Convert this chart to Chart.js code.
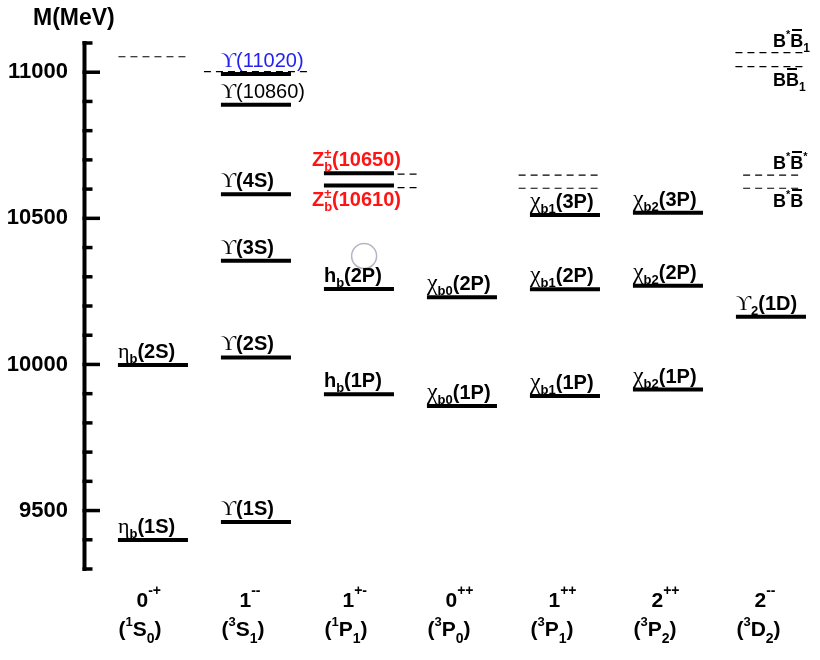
<!DOCTYPE html>
<html>
<head>
<meta charset="utf-8">
<script src="https://cdn.jsdelivr.net/npm/chart.js@4.4.0/dist/chart.umd.min.js"></script>
<style>
  html, body { margin: 0; padding: 0; background: #fff; }
  #wrap { width: 820px; height: 660px; }
</style>
</head>
<body>
<div id="wrap"><canvas id="spectrum" width="820" height="660"></canvas></div>
<script>
/* ── Data ───────────────────────────────────────────────────── */

// column quantum numbers (bottom labels)
const JPC   = ['0^{-+}', '1^{--}', '1^{+-}', '0^{++}', '1^{++}', '2^{++}', '2^{--}'];
const TERMS = ['(^{1}S_{0})', '(^{3}S_{1})', '(^{1}P_{1})', '(^{3}P_{0})', '(^{3}P_{1})', '(^{3}P_{2})', '(^{3}D_{2})'];

// bound / resonance levels
const LEVEL_NAMES = [
  'η_{b}(1S)', 'η_{b}(2S)',
  'ϒ(1S)', 'ϒ(2S)', 'ϒ(3S)', 'ϒ(4S)', 'ϒ(10860)', 'ϒ(11020)',
  'Z^{±}_{b}(10610)', 'Z^{±}_{b}(10650)', 'h_{b}(1P)', 'h_{b}(2P)',
  'χ_{b0}(1P)', 'χ_{b0}(2P)',
  'χ_{b1}(1P)', 'χ_{b1}(2P)', 'χ_{b1}(3P)',
  'χ_{b2}(1P)', 'χ_{b2}(2P)', 'χ_{b2}(3P)',
  'ϒ_{2}(1D)',
];
const LEVEL_COL  = [1, 1, 2, 2, 2, 2, 2, 2, 3, 3, 3, 3, 4, 4, 5, 5, 5, 6, 6, 6, 7];
const LEVEL_MASS = [9399, 9998, 9461, 10024, 10355, 10582, 10889, 10994, 10612, 10654,
                    9898, 10258, 9858, 10230, 9892, 10257, 10511, 9914, 10269, 10519, 10163];

// open-bottom thresholds (dashed)
const THRESH_COL   = [1, 2, 3, 3, 5, 5, 7, 7, 7, 7];
const THRESH_MASS  = [11053, 11002, 10651, 10605, 10648, 10603, 11067, 11019, 10648, 10603];
const THRESH_LABEL = ['', '', '', '', '', '', 'B^{*}~{B}_{1}', 'B~{B}_{1}', 'B^{*}~{B}^{*}', 'B^{*}~{B}'];

// cursor ring left in the picture
const RING = [{ x: 3.05, y: 10371 }];

const Y_MIN = 9300, Y_MAX = 11100, Y_STEP = 100, Y_LABEL_EVERY = 500;

/* ── Style ──────────────────────────────────────────────────── */

const SANS  = "'Liberation Sans', Arial, Helvetica, sans-serif";
const SERIF = "'Liberation Serif', 'Times New Roman', 'DejaVu Serif', serif";
const GREEK = /([ηχϒ])/;
const GREEK_SCALE = { 'η': 1.12, 'χ': 1.22, 'ϒ': 1.05 };

const HALF = 0.34;   // half width of a level bar, in column units

// dashed line extents relative to column centre
const DASH_SPAN = [
  [-0.335, 0.335], [-0.505, 0.505], [0.375, 0.58], [0.375, 0.58],
  [-0.45, 0.325], [-0.45, 0.325],
  [-0.345, 0.335], [-0.345, 0.335], [-0.27, 0.29], [-0.27, 0.29],
];

const LABEL_STYLE = {
  'ϒ(10860)':         { weight: 'normal' },
  'ϒ(11020)':         { weight: 'normal', color: '#2222ee' },
  'Z^{±}_{b}(10650)': { color: '#ff1414', dx: -12 },
  'Z^{±}_{b}(10610)': { color: '#ff1414', dx: -12, below: true },
};
const THRESH_BELOW = new Set(['B~{B}_{1}', 'B^{*}~{B}']);

/* ── Rich text (sub/sup/overline, serif greek) ─────────────── */

function parseRich(s) {
  const out = [];
  let i = 0;
  const isMark = k => (s[k] === '_' || s[k] === '^' || s[k] === '~') && s[k + 1] === '{';
  while (i < s.length) {
    if (isMark(i)) {
      const end = s.indexOf('}', i);
      out.push({ t: s.slice(i + 2, end), k: s[i] });
      i = end + 1;
    } else {
      let j = i;
      while (j < s.length && !isMark(j)) j++;
      out.push({ t: s.slice(i, j), k: '' });
      i = j;
    }
  }
  return out;
}

function layoutRich(ctx, s, st) {
  const items = [];
  let x = 0, supStart = 0, prevK = null;
  for (const tok of parseRich(s)) {
    const small = tok.k === '_' || tok.k === '^';
    const dy = tok.k === '_' ? st.subDy : tok.k === '^' ? st.supDy : 0;
    let x0 = (tok.k === '_' && prevK === '^') ? supStart : x;
    const start = x0;
    for (const run of tok.t.split(GREEK).filter(Boolean)) {
      const greek = GREEK.test(run);
      const size = small ? (tok.k === '_' ? st.sub : st.sup) : st.size;
      const font = greek
        ? `${Math.round(size * GREEK_SCALE[run])}px ${SERIF}`
        : `${st.weight} ${size}px ${SANS}`;
      ctx.font = font;
      const w = ctx.measureText(run).width;
      items.push({ text: run, font, dx: x0, dy, w, over: tok.k === '~', size });
      x0 += w;
    }
    if (tok.k === '_' && prevK === '^') x = Math.max(x, x0);
    else x = x0;
    if (tok.k === '^') supStart = start;
    prevK = tok.k;
  }
  return { items, width: x };
}

function drawRich(ctx, s, x, y, st) {
  const lay = layoutRich(ctx, s, st);
  ctx.fillStyle = st.color;
  ctx.textBaseline = 'alphabetic';
  ctx.textAlign = 'left';
  for (const it of lay.items) {
    ctx.font = it.font;
    ctx.fillText(it.text, x + it.dx, y + it.dy);
    if (it.over) {
      const by = Math.round(y - it.size * 0.72 - 5);
      ctx.fillRect(Math.round(x + it.dx + 1.5), by, Math.round(it.w - 3), 2);
    }
  }
  return lay.width;
}

/* ── Datasets ───────────────────────────────────────────────── */

function barPoints(cols, masses, spans) {
  const pts = [];
  cols.forEach((c, i) => {
    const [a, b] = spans ? spans[i] : [-HALF, HALF];
    pts.push({ x: c + a, y: masses[i] }, { x: c + b, y: masses[i] }, { x: c + b, y: null });
  });
  return pts;
}

/* ── Plugins ────────────────────────────────────────────────── */

const axisPlugin = {
  id: 'massAxis',
  afterDraw(chart) {
    const { ctx, scales: { y }, chartArea } = chart;
    const ax = chartArea.left - 1.5;
    ctx.save();
    ctx.strokeStyle = '#000';
    ctx.lineWidth = 4;
    ctx.lineCap = 'butt';
    ctx.beginPath();
    ctx.moveTo(ax, y.getPixelForValue(Y_MAX) - 2);
    ctx.lineTo(ax, y.getPixelForValue(Y_MIN) + 2);
    ctx.stroke();
    ctx.lineWidth = 3.5;
    y.ticks.forEach(t => {
      const py = y.getPixelForValue(t.value);
      const len = t.value % Y_LABEL_EVERY === 0 ? 15.5 : 8;
      ctx.beginPath();
      ctx.moveTo(ax - 2, py);
      ctx.lineTo(ax + len, py);
      ctx.stroke();
    });
    ctx.font = `bold 23px ${SANS}`;
    ctx.fillStyle = '#000';
    ctx.textAlign = 'left';
    ctx.textBaseline = 'alphabetic';
    ctx.fillText('M(MeV)', 33, 25);
    ctx.restore();
  },
};

const labelPlugin = {
  id: 'levelLabels',
  afterDatasetsDraw(chart) {
    const { ctx, scales: { x, y } } = chart;
    ctx.save();

    // level names
    LEVEL_NAMES.forEach((name, i) => {
      const s = LABEL_STYLE[name] || {};
      const px = x.getPixelForValue(LEVEL_COL[i] - HALF) + (s.dx || 0);
      const py = y.getPixelForValue(LEVEL_MASS[i]);
      drawRich(ctx, name, px, s.below ? py + 20 : py - 7, {
        size: 20, sub: 13, sup: 13, subDy: 5, supDy: -8,
        weight: s.weight || 'bold', color: s.color || '#000',
      });
    });

    // threshold names
    THRESH_LABEL.forEach((lab, i) => {
      if (!lab) return;
      const px = x.getPixelForValue(THRESH_COL[i]) + 2;
      const py = y.getPixelForValue(THRESH_MASS[i]);
      drawRich(ctx, lab, px, THRESH_BELOW.has(lab) ? py + 19 : py - 6, {
        size: 18, sub: 12, sup: 11, subDy: 5, supDy: -9,
        weight: 'bold', color: '#000',
      });
    });

    // column quantum numbers
    const bottom = chart.chartArea.bottom;
    JPC.forEach((j, i) => {
      const c = x.getPixelForValue(i + 1);
      drawRich(ctx, j, c - 16.5, bottom + 38, {
        size: 21, sub: 13, sup: 14, subDy: 6, supDy: -12, weight: 'bold', color: '#000',
      });
      drawRich(ctx, TERMS[i], c - 34.5, bottom + 67, {
        size: 21, sub: 14, sup: 13, subDy: 7, supDy: -10, weight: 'bold', color: '#000',
      });
    });
    ctx.restore();
  },
};

/* ── Chart ──────────────────────────────────────────────────── */

new Chart(document.getElementById('spectrum').getContext('2d'), {
  type: 'line',
  data: {
    datasets: [
      {
        label: 'levels',
        data: barPoints(LEVEL_COL, LEVEL_MASS),
        borderColor: '#000',
        borderWidth: 4,
        borderCapStyle: 'butt',
        pointRadius: 0,
        spanGaps: false,
        tension: 0,
      },
      {
        label: 'thresholds',
        data: barPoints(THRESH_COL, THRESH_MASS, DASH_SPAN),
        borderColor: '#000',
        borderWidth: 1.2,
        borderDash: [7, 5],
        pointRadius: 0,
        spanGaps: false,
        tension: 0,
      },
      {
        label: 'ring',
        type: 'scatter',
        data: RING,
        pointRadius: 12.5,
        pointBorderWidth: 1.5,
        pointBorderColor: '#b4b4c4',
        pointBackgroundColor: 'rgba(0,0,0,0)',
      },
    ],
  },
  options: {
    responsive: false,
    animation: false,
    events: [],
    layout: { autoPadding: false, padding: { top: 43, bottom: 91, left: 0, right: 2 } },
    plugins: { legend: { display: false }, tooltip: { enabled: false } },
    scales: {
      x: {
        type: 'linear',
        display: false,
        min: 0.35,
        max: 0.35 + 732 / 103,
      },
      y: {
        min: Y_MIN,
        max: Y_MAX,
        grid: { display: false },
        border: { display: false },
        ticks: {
          stepSize: Y_STEP,
          autoSkip: false,
          padding: 10,
          color: '#000',
          font: { family: SANS, size: 22, weight: 'bold' },
          callback: v => (v % Y_LABEL_EVERY === 0 && v < Y_MAX ? String(v) : ''),
        },
        afterFit(scale) {
          scale.width = 86;
          scale.paddingTop = 0;
          scale.paddingBottom = 0;
        },
      },
    },
  },
  plugins: [axisPlugin, labelPlugin],
});
</script>
</body>
</html>
